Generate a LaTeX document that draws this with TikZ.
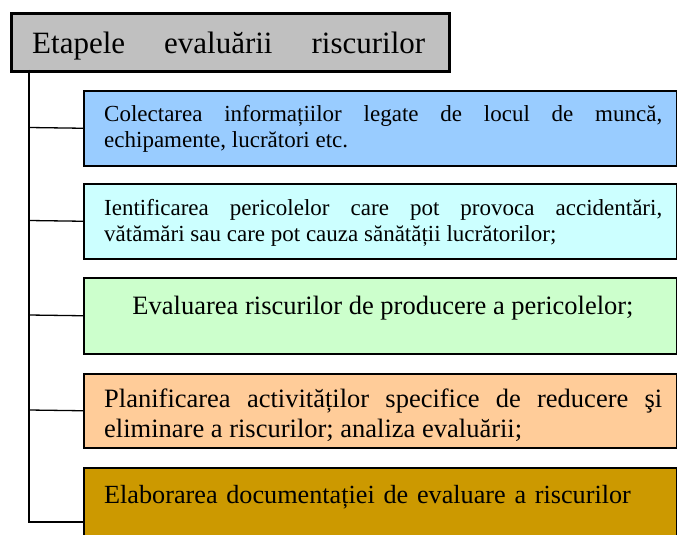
\documentclass[tikz,border=0pt]{standalone}
\usepackage{fontspec}
\setmainfont{Liberation Serif}
\definecolor{cTitle}{HTML}{C0C0C0}
\definecolor{cA}{HTML}{99CCFF}
\definecolor{cB}{HTML}{CCFFFF}
\definecolor{cC}{HTML}{CCFFCC}
\definecolor{cD}{HTML}{FFCC99}
\definecolor{cE}{HTML}{CC9900}
\tikzset{
  stepbox/.style={draw=black, line width=1.5pt, rectangle, inner sep=0pt, minimum width=593pt, anchor=north west},
  smalltxt/.style={inner sep=0pt, anchor=base west, text width=558pt, align=justify,
     font=\fontsize{23pt}{26pt}\selectfont},
  bigtxt/.style={inner sep=0pt, anchor=base west, text width=558pt, align=justify,
     font=\fontsize{26.5pt}{30pt}\selectfont},
  conn/.style={draw=black, line width=1.3pt},
}
\begin{document}
\begin{tikzpicture}[x=1pt,y=-1pt]
\useasboundingbox (0,0) rectangle (677,535);
\clip (0,0) rectangle (677,535);
% title
\node[draw=black, line width=3pt, fill=cTitle, rectangle, inner sep=0pt,
      minimum width=438pt, minimum height=58pt, anchor=north west] (title) at (10,12) {};
\node[inner sep=0pt, anchor=base west, text width=393pt, font=\fontsize{31pt}{36pt}\selectfont]
   (ttl) at (32,54) {Etapele\hfill evaluării\hfill riscurilor};
% boxes
\node[stepbox, fill=cA, minimum height=75pt] (b1) at (83,90) {};
\node[stepbox, fill=cB, minimum height=75pt] (b2) at (83,183) {};
\node[stepbox, fill=cC, minimum height=76pt] (b3) at (83,277) {};
\node[stepbox, fill=cD, minimum height=74pt] (b4) at (83,373) {};
\node[stepbox, fill=cE, minimum height=110pt] (b5) at (83,467) {};
% texts
\node[smalltxt] (t1) at (104,121) {Colectarea informațiilor legate de locul de muncă,\linebreak echipamente, lucrători etc.};
\node[smalltxt] (t2) at (104,215) {Ientificarea pericolelor care pot provoca accidentări,\linebreak vătămări sau care pot cauza sănătății lucrătorilor;};
\node[inner sep=0pt, anchor=base, font=\fontsize{26.5pt}{30pt}\selectfont] (t3) at (383,314) {Evaluarea riscurilor de producere a pericolelor;};
\node[bigtxt] (t4) at (104,407) {Planificarea activităților specifice de reducere şi\linebreak eliminare a riscurilor; analiza evaluării;};
\node[bigtxt, align=left, font=\fontsize{26.2pt}{30pt}\selectfont] (t5) at (104,503) {Elaborarea documentației de evaluare a riscurilor};
% connectors
\coordinate (top) at (29,70);
\coordinate (j1) at (29,127.5);
\coordinate (j2) at (29,220.5);
\coordinate (j3) at (29,315);
\coordinate (j4) at (29,410);
\coordinate (j5) at (29,522);
\draw[conn] (top) -- (j5) -- (j5 -| b5.west);
\draw[conn] (j1) -- (b1.west);
\draw[conn] (j2) -- (b2.west);
\draw[conn] (j3) -- (b3.west);
\draw[conn] (j4) -- (b4.west);
\end{tikzpicture}
\end{document}
